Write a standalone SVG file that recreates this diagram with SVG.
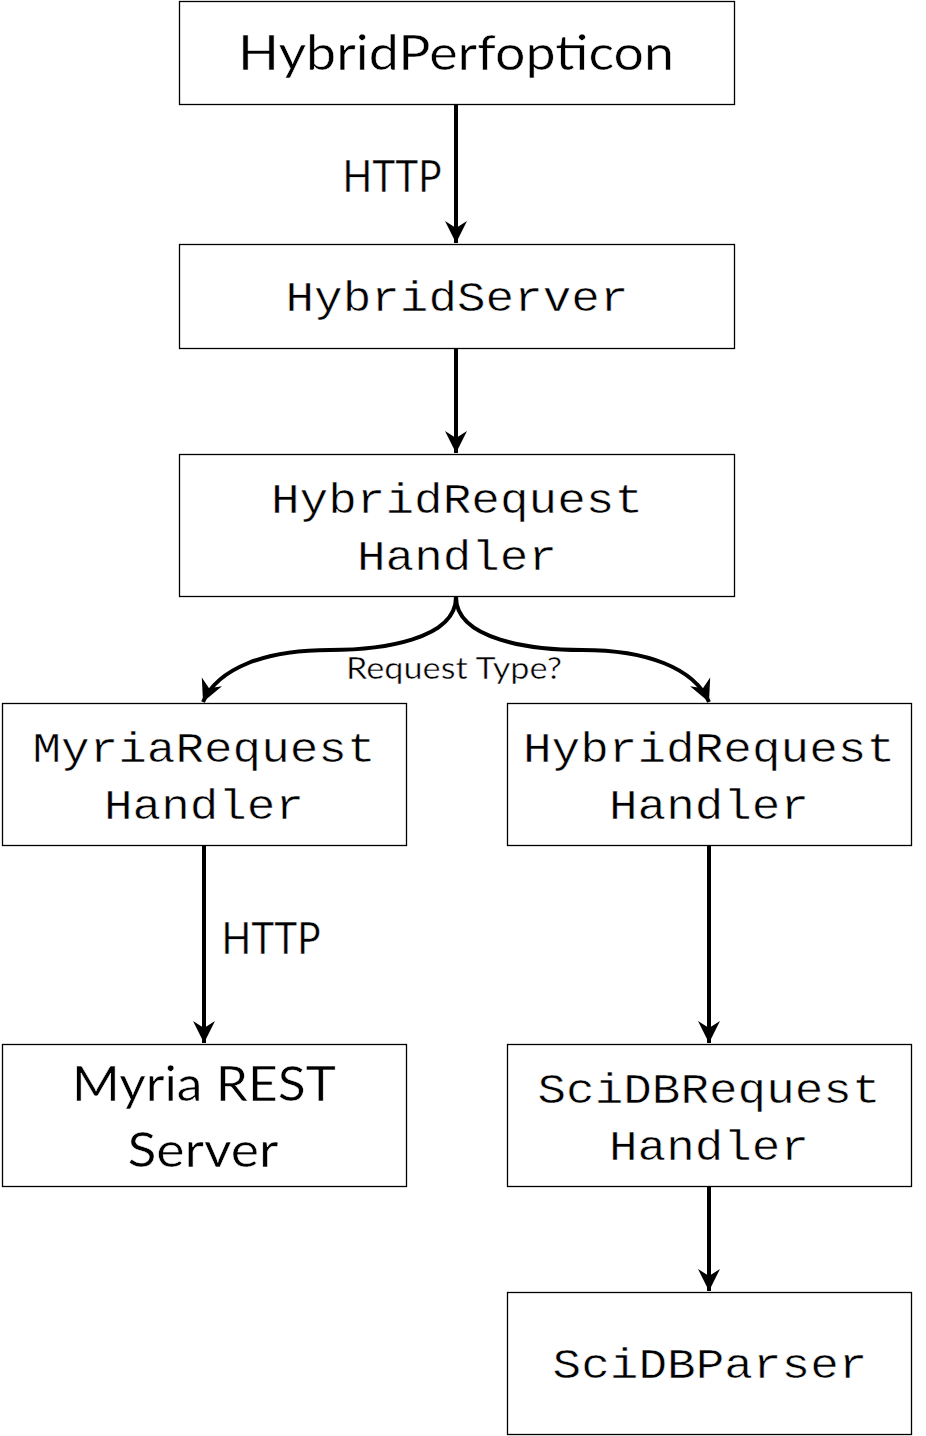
<svg xmlns="http://www.w3.org/2000/svg" width="926" height="1436" viewBox="0 0 926 1436">
  <style>
    .box { fill: #ffffff; stroke: #000000; stroke-width: 1.3; }
    .mono { font-family: "Liberation Mono", "Courier New", monospace; font-size: 42px; fill: #000; stroke: #fff; stroke-width: 0.5; text-anchor: middle; }
    .sans { font-family: Lato, "Open Sans", "Liberation Sans", sans-serif; fill: #000; stroke: #fff; stroke-width: 0.5; text-anchor: middle; }
    .conn { fill: none; stroke: #000; stroke-width: 4; }
  </style>
  <defs>
    <marker id="arr" markerUnits="userSpaceOnUse" viewBox="-24 -13 26 26" refX="0" refY="0" markerWidth="26" markerHeight="26" orient="auto">
      <path d="M0,0 L-22,-11 L-15,0 L-22,11 Z" fill="#000"/>
    </marker>
  </defs>
  <rect width="926" height="1436" fill="#fff"/>

  <g id="node-perfopticon">
    <rect class="box" x="179.5" y="1.5" width="555" height="103"/>
    <text class="sans" x="456" y="70" font-size="48" textLength="436" lengthAdjust="spacingAndGlyphs">HybridPerfopticon</text>
  </g>
  <g id="node-hybridserver">
    <rect class="box" x="179.5" y="244.5" width="555" height="104"/>
    <text class="mono" x="457" y="311" textLength="343" lengthAdjust="spacingAndGlyphs">HybridServer</text>
  </g>
  <g id="node-hybridrequesthandler-top">
    <rect class="box" x="179.5" y="454.5" width="555" height="142"/>
    <text class="mono" x="457" y="513" textLength="372" lengthAdjust="spacingAndGlyphs">HybridRequest</text>
    <text class="mono" x="457" y="570" textLength="200" lengthAdjust="spacingAndGlyphs">Handler</text>
  </g>
  <g id="node-myriarequesthandler">
    <rect class="box" x="2.5" y="703.5" width="404" height="142"/>
    <text class="mono" x="204" y="762" textLength="343" lengthAdjust="spacingAndGlyphs">MyriaRequest</text>
    <text class="mono" x="204" y="819" textLength="200" lengthAdjust="spacingAndGlyphs">Handler</text>
  </g>
  <g id="node-hybridrequesthandler-right">
    <rect class="box" x="507.5" y="703.5" width="404" height="142"/>
    <text class="mono" x="709" y="762" textLength="372" lengthAdjust="spacingAndGlyphs">HybridRequest</text>
    <text class="mono" x="709" y="819" textLength="200" lengthAdjust="spacingAndGlyphs">Handler</text>
  </g>
  <g id="node-myriarest">
    <rect class="box" x="2.5" y="1044.5" width="404" height="142"/>
    <text class="sans" x="204" y="1101" font-size="48" textLength="264" lengthAdjust="spacingAndGlyphs">Myria REST</text>
    <text class="sans" x="203" y="1167" font-size="48" textLength="151" lengthAdjust="spacingAndGlyphs">Server</text>
  </g>
  <g id="node-scidbrequesthandler">
    <rect class="box" x="507.5" y="1044.5" width="404" height="142"/>
    <text class="mono" x="709" y="1103" textLength="343" lengthAdjust="spacingAndGlyphs">SciDBRequest</text>
    <text class="mono" x="709" y="1160" textLength="200" lengthAdjust="spacingAndGlyphs">Handler</text>
  </g>
  <g id="node-scidbparser">
    <rect class="box" x="507.5" y="1292.5" width="404" height="142"/>
    <text class="mono" x="710" y="1378" textLength="315" lengthAdjust="spacingAndGlyphs">SciDBParser</text>
  </g>

  <g id="connectors">
    <line class="conn" x1="456" y1="105" x2="456" y2="243" marker-end="url(#arr)"/>
    <line class="conn" x1="456" y1="349" x2="456" y2="453" marker-end="url(#arr)"/>
    <path class="conn" d="M456,597 C456,640 380,650 330,650 C265,650 218,668 203,702" marker-end="url(#arr)"/>
    <path class="conn" d="M456,597 C456,640 532,650 582,650 C647,650 694,668 709,702" marker-end="url(#arr)"/>
    <line class="conn" x1="204" y1="846" x2="204" y2="1043" marker-end="url(#arr)"/>
    <line class="conn" x1="709" y1="846" x2="709" y2="1043" marker-end="url(#arr)"/>
    <line class="conn" x1="709" y1="1187" x2="709" y2="1291" marker-end="url(#arr)"/>
    <text class="sans" x="392" y="192" font-size="44" textLength="99" lengthAdjust="spacingAndGlyphs">HTTP</text>
    <text class="sans" x="271" y="954" font-size="44" textLength="99" lengthAdjust="spacingAndGlyphs">HTTP</text>
    <text class="sans" x="454" y="679" font-size="30" stroke="none" textLength="216" lengthAdjust="spacingAndGlyphs">Request Type?</text>
  </g>
</svg>
